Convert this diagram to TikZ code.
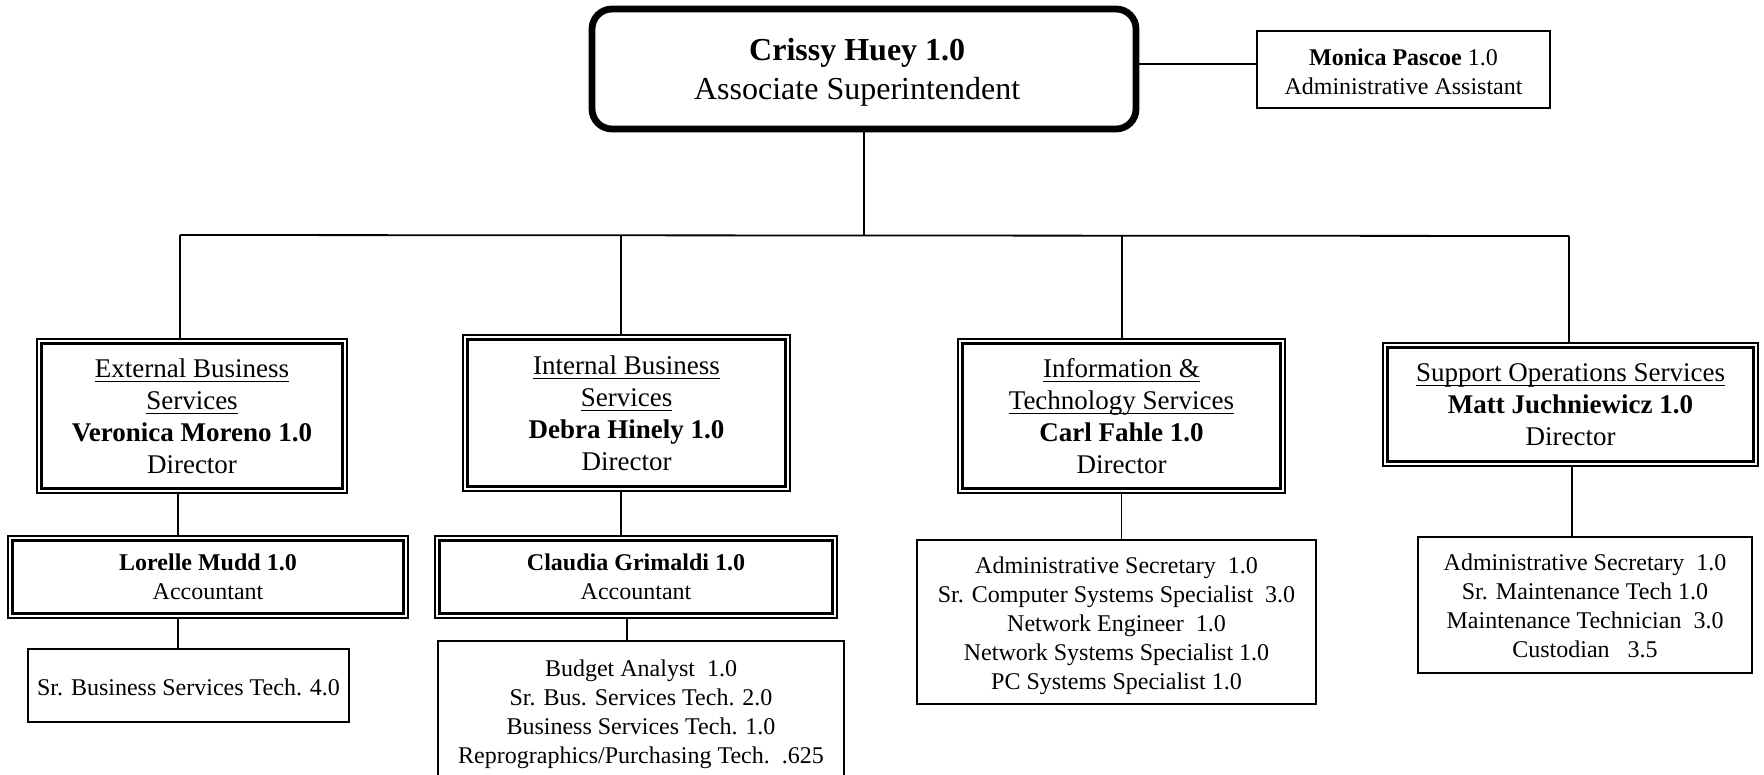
\documentclass[tikz,border=0pt]{standalone}
\usepackage{fontspec}
\setmainfont{Liberation Serif}
% underline at a fixed depth below the baseline
\newlength\ulwd
\newcommand\uln[1]{\settowidth\ulwd{#1}\rlap{\rule[-2.2pt]{\ulwd}{0.55pt}}#1}
\begin{document}
\begin{tikzpicture}[x=0.5pt,y=-0.5pt,
  box/.style={draw, line width=1pt, rectangle, align=center, inner sep=0pt,
    font=\fontsize{12}{14.3}\selectfont},
  dbox/.style={box, line width=1pt, font=\fontsize{13.5}{16}\selectfont,
    path picture={\draw[line width=1.5pt]
      ([shift={(2.3pt,-2.3pt)}]path picture bounding box.north west) rectangle
      ([shift={(-2.3pt,2.3pt)}]path picture bounding box.south east);}},
  txt/.style={align=center, inner sep=0pt, font=\fontsize{12}{14.5}\selectfont},
  link/.style={line width=0.9pt},
]
\useasboundingbox (0,0) rectangle (1764,775);

% head of the division
\node[box, line width=3.4pt, rounded corners=10pt, minimum width=272pt, minimum height=60pt] (top) at (864,69) {};
\node[txt, font=\fontsize{16}{19.6}\selectfont, shift={(-3.4pt,-1.6pt)}] (toptext) at (top.center)
  {\textbf{Crissy Huey 1.0}\\Associate Superintendent};
\node[box, minimum width=146.5pt, minimum height=38.5pt] (monica) at (1403.5,69.5) {};
\node[txt, shift={(0pt,-1.2pt)}] (monicatext) at (monica.center)
  {\textbf{Monica Pascoe} 1.0\\Administrative Assistant};

% directors
\node[dbox, minimum width=155pt, minimum height=77pt] (ext) at (192,416)
  {\uln{External Business}\\\uln{Services}\\\textbf{Veronica Moreno 1.0}\\Director};
\node[dbox, minimum width=163.5pt, minimum height=78pt] (int) at (626.5,413)
  {\uln{Internal Business}\\\uln{Services}\\\textbf{Debra Hinely 1.0}\\Director};
\node[dbox, minimum width=163.5pt, minimum height=77pt] (its) at (1121.5,416)
  {\uln{Information \&}\\\uln{Technology Services}\\\textbf{Carl Fahle 1.0}\\Director};
\node[dbox, minimum width=187.5pt, minimum height=61.5pt] (sup) at (1570.5,404.5)
  {\uln{Support Operations Services}\\\textbf{Matt Juchniewicz 1.0}\\Director};

% accountants
\node[dbox, font=\fontsize{12}{14.3}\selectfont, minimum width=200pt, minimum height=41pt] (mudd) at (208,577)
  {\textbf{Lorelle Mudd 1.0}\\Accountant};
\node[dbox, font=\fontsize{12}{14.3}\selectfont, minimum width=201pt, minimum height=41pt] (grim) at (636,577)
  {\textbf{Claudia Grimaldi 1.0}\\Accountant};

% staff
\node[box, minimum width=160.5pt, minimum height=36.5pt] (extstaff) at (188.5,685.5) {};
\node[txt, shift={(0pt,-1.1pt)}] (extstafftext) at (extstaff.center)
  {Sr. Business Services Tech. 4.0};
\node[box, minimum width=203pt, minimum height=69pt] (intstaff) at (641,710) {};
\node[txt, shift={(0pt,-2pt)}] (intstafftext) at (intstaff.center)
  {Budget Analyst\ \ 1.0\\Sr. Bus. Services Tech. 2.0\\Business Services Tech. 1.0\\Reprographics/Purchasing Tech.\ \ .625};
\node[box, minimum width=199.5pt, minimum height=82pt] (itsstaff) at (1116.5,622) {};
\node[txt, shift={(0pt,-1.7pt)}] (itsstafftext) at (itsstaff.center)
  {Administrative Secretary\ \ 1.0\\Sr. Computer Systems Specialist\ \ 3.0\\Network Engineer\ \ 1.0\\Network Systems Specialist 1.0\\PC Systems Specialist 1.0};
\node[box, minimum width=167pt, minimum height=68pt] (supstaff) at (1585,605) {};
\node[txt, shift={(0pt,-0.5pt)}] (supstafftext) at (supstaff.center)
  {Administrative Secretary\ \ 1.0\\Sr. Maintenance Tech 1.0\\Maintenance Technician\ \ 3.0\\Custodian\ \ \ 3.5};

% bus
\coordinate (bA) at (180,235);
\coordinate (bB) at (621,235);
\coordinate (bC) at (1122,235);
\coordinate (bD) at (1569,236);

\draw[link] ([yshift=2.5pt]top.east) -- ([yshift=2.5pt]top.east -| monica.west);
\draw[link] (top.south) -- (top.south |- bA);
\draw[link] (bA) -- (bD);
\draw[link] (bA) -- (bA |- ext.north);
\draw[link] (bB) -- (bB |- int.north);
\draw[link] (bC) -- (bC |- its.north);
\draw[link] (bD) -- (bD |- sup.north);

\draw[link] ([xshift=-7pt]ext.south) -- ([xshift=-7pt]ext.south |- mudd.north);
\draw[link] ([xshift=-15pt]mudd.south) -- ([xshift=-15pt]mudd.south |- extstaff.north);
\draw[link] ([xshift=-2.75pt]int.south) -- ([xshift=-2.75pt]int.south |- grim.north);
\draw[link] ([xshift=-4.5pt]grim.south) -- ([xshift=-4.5pt]grim.south |- intstaff.north);
\draw[link] (its.south) -- (its.south |- itsstaff.north);
\draw[link] ([xshift=0.75pt]sup.south) -- ([xshift=0.75pt]sup.south |- supstaff.north);
\end{tikzpicture}
\end{document}
